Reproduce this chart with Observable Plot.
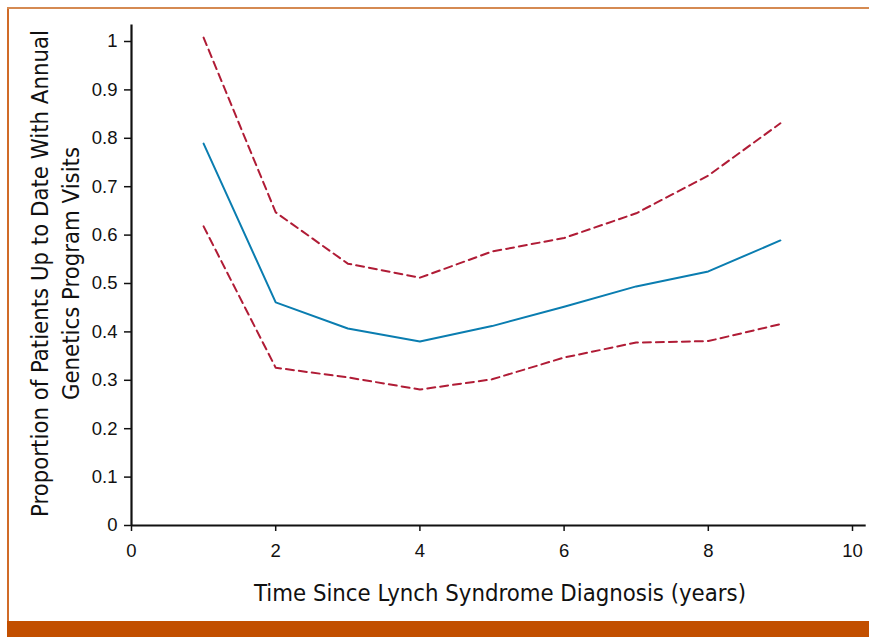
<!DOCTYPE html>
<html>
<head>
<meta charset="utf-8">
<script src="https://cdn.jsdelivr.net/npm/d3@7"></script>
<script src="https://cdn.jsdelivr.net/npm/@observablehq/plot@0.6"></script>
<style>
  html, body { margin: 0; padding: 0; background: #fff; }
  #wrap { position: relative; width: 869px; height: 637px; overflow: hidden; background: #fff; }
  #wrap svg { position: absolute; left: 0; top: 0; }
  .frame-left { position: absolute; left: 7px; top: 7px; width: 2px; height: 630px; background: #d06b28; }
  .frame-top { position: absolute; left: 7px; top: 7px; width: 862px; height: 2px; background: #d58a52; }
  .frame-bottom { position: absolute; left: 7px; top: 621px; width: 862px; height: 16px; background: #c24f00; }
</style>
</head>
<body>
<div id="wrap">
  <div class="frame-left"></div>
  <div class="frame-top"></div>
  <div class="frame-bottom"></div>
</div>
<script>
// Data
const years = [1, 2, 3, 4, 5, 6, 7, 8, 9];
const estimate = [0.789, 0.461, 0.407, 0.380, 0.412, 0.452, 0.494, 0.525, 0.589];
const upperCI  = [1.008, 0.647, 0.541, 0.512, 0.566, 0.594, 0.645, 0.723, 0.831];
const lowerCI  = [0.618, 0.326, 0.306, 0.281, 0.302, 0.347, 0.378, 0.381, 0.416];

const xTicks = [0, 2, 4, 6, 8, 10];
const yTicks = [0, 0.1, 0.2, 0.3, 0.4, 0.5, 0.6, 0.7, 0.8, 0.9, 1];

const xTitle = "Time Since Lynch Syndrome Diagnosis (years)";
const yTitle = "Proportion of Patients Up to Date With Annual\nGenetics Program Visits";

const estRows = years.map((x, i) => ({x, y: estimate[i]}));
const upRows = years.map((x, i) => ({x, y: upperCI[i]}));
const loRows = years.map((x, i) => ({x, y: lowerCI[i]}));

const tickFont = "'Liberation Sans', Arial, Helvetica, sans-serif";
const titleFont = "'Liberation Sans Narrow', 'Arial Narrow', 'DejaVu Sans Condensed', 'Liberation Sans', sans-serif";

const chart = Plot.plot({
  width: 869,
  height: 637,
  marginLeft: 131,
  marginRight: 17,
  marginTop: 41,
  marginBottom: 112,
  style: { fontFamily: tickFont, fontSize: "18.5px", color: "#111", background: "transparent" },
  x: { domain: [0, 10] },
  y: { domain: [0, 1] },
  marks: [
    Plot.axisX({
      ticks: xTicks, tickSize: 6, tickPadding: 12, label: null,
      tickFormat: d => String(d), stroke: "#111", strokeWidth: 1.5, fontSize: 18.5
    }),
    Plot.axisY({
      ticks: yTicks, tickSize: 7, tickPadding: 7, label: null,
      tickFormat: d => String(d), stroke: "#111", strokeWidth: 1.5, fontSize: 18.5
    }),
    Plot.ruleY([0], { x1: 0, x2: 10.19, stroke: "#111", strokeWidth: 2.2, clip: false }),
    Plot.ruleX([0], { y1: 0, y2: 1.034, stroke: "#111", strokeWidth: 2.2, clip: false }),
    Plot.line(upRows, { x: "x", y: "y", stroke: "#b01c36", strokeWidth: 2, strokeDasharray: "8,5" }),
    Plot.line(loRows, { x: "x", y: "y", stroke: "#b01c36", strokeWidth: 2, strokeDasharray: "8,5" }),
    Plot.line(estRows, { x: "x", y: "y", stroke: "#0a7db0", strokeWidth: 2 }),
    Plot.text([xTitle], {
      frameAnchor: "bottom", dy: 75, dx: 8, lineAnchor: "bottom", textAnchor: "middle",
      fontFamily: titleFont, fontSize: 23.7, fill: "#111", text: d => d
    }),
    Plot.text([yTitle], {
      frameAnchor: "left", dx: -53, dy: -10, rotate: -90, lineAnchor: "bottom", textAnchor: "middle",
      lineHeight: 1.3, fontFamily: titleFont, fontSize: 23.7, fill: "#111", text: d => d
    })
  ]
});

// make sure tick labels use the larger size
d3.select(chart).selectAll("g[aria-label]")
  .filter(function () { return /tick label/.test(this.getAttribute("aria-label")); })
  .attr("font-size", 18.5)
  .style("font-size", "18.5px")
  .attr("fill", "#111");

document.getElementById("wrap").prepend(chart);
</script>
</body>
</html>
